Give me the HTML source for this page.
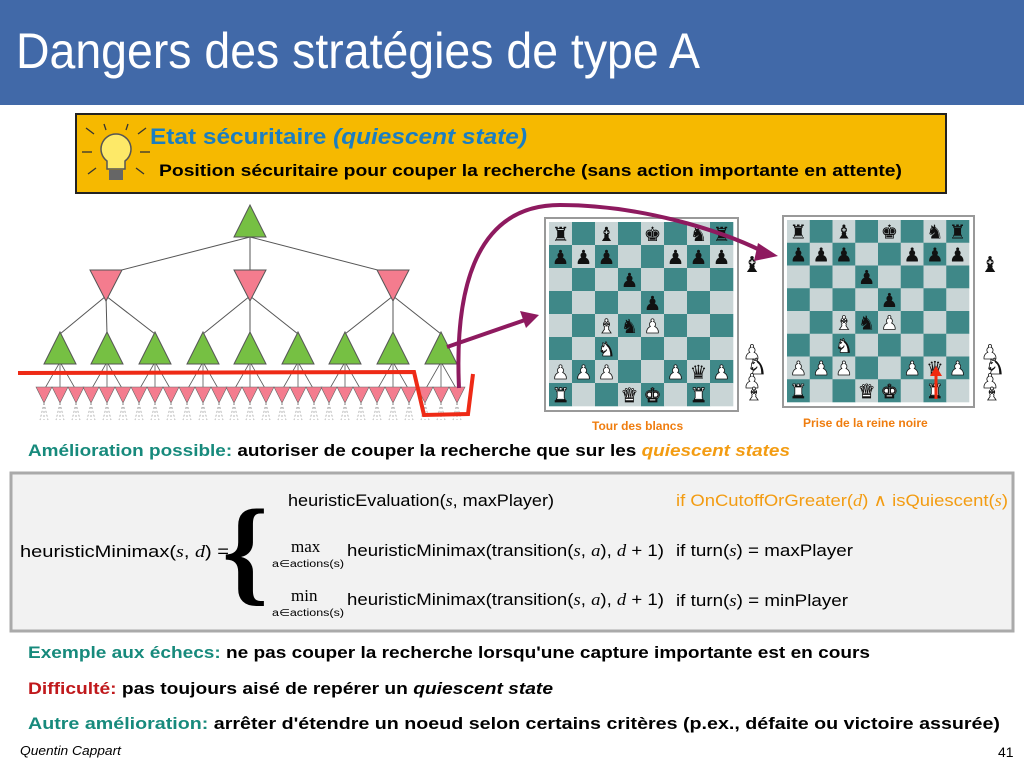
<!DOCTYPE html>
<html><head><meta charset="utf-8"><style>
body{margin:0;width:1024px;height:768px;overflow:hidden;background:#fff}
svg{display:block}
text{font-family:"Liberation Sans","DejaVu Sans",sans-serif}
.b{font-weight:bold}
.m{font-family:"Liberation Serif",serif}
</style></head><body>
<svg id="s" width="1024" height="768" viewBox="0 0 1024 768" xmlns="http://www.w3.org/2000/svg">
<rect x="0" y="0" width="1024" height="105" fill="#4169a8"/>
<text x="16" y="68" font-size="50" fill="#fff" textLength="684" lengthAdjust="spacingAndGlyphs">Dangers des stratégies de type A</text>

<rect x="76" y="114" width="870" height="79" fill="#f6b900" stroke="#222" stroke-width="2"/>
<g stroke="#333" stroke-width="1.3">
<line x1="86" y1="128" x2="94" y2="134"/><line x1="104" y1="124" x2="106" y2="130"/><line x1="128" y1="124" x2="126" y2="130"/><line x1="146" y1="128" x2="138" y2="134"/>
<line x1="82" y1="152" x2="92" y2="152"/><line x1="140" y1="152" x2="150" y2="152"/>
<line x1="88" y1="174" x2="96" y2="168"/><line x1="144" y1="174" x2="136" y2="168"/>
</g>
<path d="M116 134 a15 15 0 0 1 9 27 v8 h-18 v-8 a15 15 0 0 1 9 -27z" fill="#fde968" stroke="#555" stroke-width="1.5"/>
<rect x="109" y="170" width="14" height="10" fill="#666"/>
<text x="150" y="144" font-size="22" fill="#1b7ec2" class="b" textLength="377" lengthAdjust="spacingAndGlyphs">Etat sécuritaire <tspan font-style="italic">(quiescent state)</tspan></text>
<text x="159" y="176" font-size="17" class="b" textLength="743" lengthAdjust="spacingAndGlyphs">Position sécuritaire pour couper la recherche (sans action importante en attente)</text>

<g id="tree"></g>
<g id="boards"></g>

<text x="592" y="430" font-size="12" class="b" fill="#ef7d0f">Tour des blancs</text>
<text x="803" y="427" font-size="12" class="b" fill="#ef7d0f">Prise de la reine noire</text>

<text x="28" y="456" font-size="17" class="b" textLength="762" lengthAdjust="spacingAndGlyphs"><tspan fill="#178a7c">Amélioration possible:</tspan> autoriser de couper la recherche que sur les <tspan fill="#f39c12" font-style="italic">quiescent states</tspan></text>

<rect x="11" y="473" width="1002" height="158" fill="#f2f2f2" stroke="#aaa" stroke-width="3"/>
<text x="20" y="557" font-size="17" textLength="209" lengthAdjust="spacingAndGlyphs">heuristicMinimax(<tspan class="m" font-style="italic">s</tspan>, <tspan class="m" font-style="italic">d</tspan>) =</text>
<text x="222" y="590" font-size="118" class="m" font-weight="bold">{</text>
<text x="288" y="506" font-size="17" textLength="266" lengthAdjust="spacingAndGlyphs">heuristicEvaluation(<tspan class="m" font-style="italic">s</tspan>, maxPlayer)</text>
<text x="676" y="506" font-size="17" fill="#f39c12" textLength="332" lengthAdjust="spacingAndGlyphs">if OnCutoffOrGreater(<tspan class="m" font-style="italic">d</tspan>) ∧ isQuiescent(<tspan class="m" font-style="italic">s</tspan>)</text>
<text x="291" y="552" font-size="17" class="m">max</text>
<text x="272" y="567" font-size="10" textLength="72" lengthAdjust="spacingAndGlyphs">a∈actions(s)</text>
<text x="347" y="556" font-size="17" textLength="317" lengthAdjust="spacingAndGlyphs">heuristicMinimax(transition(<tspan class="m" font-style="italic">s</tspan>, <tspan class="m" font-style="italic">a</tspan>), <tspan class="m" font-style="italic">d</tspan> + 1)</text>
<text x="676" y="556" font-size="17" textLength="177" lengthAdjust="spacingAndGlyphs">if turn(<tspan class="m" font-style="italic">s</tspan>) = maxPlayer</text>
<text x="291" y="601" font-size="17" class="m">min</text>
<text x="272" y="616" font-size="10" textLength="72" lengthAdjust="spacingAndGlyphs">a∈actions(s)</text>
<text x="347" y="605" font-size="17" textLength="317" lengthAdjust="spacingAndGlyphs">heuristicMinimax(transition(<tspan class="m" font-style="italic">s</tspan>, <tspan class="m" font-style="italic">a</tspan>), <tspan class="m" font-style="italic">d</tspan> + 1)</text>
<text x="676" y="606" font-size="17" textLength="172" lengthAdjust="spacingAndGlyphs">if turn(<tspan class="m" font-style="italic">s</tspan>) = minPlayer</text>

<text x="28" y="658" font-size="17" class="b" textLength="842" lengthAdjust="spacingAndGlyphs"><tspan fill="#178a7c">Exemple aux échecs:</tspan> ne pas couper la recherche lorsqu'une capture importante est en cours</text>
<text x="28" y="694" font-size="17" class="b" textLength="525" lengthAdjust="spacingAndGlyphs"><tspan fill="#c0191c">Difficulté:</tspan> pas toujours aisé de repérer un <tspan font-style="italic">quiescent state</tspan></text>
<text x="28" y="729" font-size="17" class="b" textLength="972" lengthAdjust="spacingAndGlyphs"><tspan fill="#178a7c">Autre amélioration:</tspan> arrêter d'étendre un noeud selon certains critères (p.ex., défaite ou victoire assurée)</text>
<text x="20" y="755" font-size="13" font-style="italic" textLength="101" lengthAdjust="spacingAndGlyphs">Quentin Cappart</text>
<text x="998" y="757" font-size="14">41</text>
</svg>
<script>
var NS="http://www.w3.org/2000/svg";
function el(p,t,a,txt){var e=document.createElementNS(NS,t);for(var k in a)e.setAttribute(k,a[k]);if(txt!=null)e.textContent=txt;p.appendChild(e);return e;}
var T=document.getElementById('tree');
var G="#76c043",P="#f47c8e";
var l1=[106,250,393],l2=[60,107,155,203,250,298,345,393,441];
l1.forEach(function(x){el(T,'line',{x1:250,y1:237,x2:x,y2:274,stroke:'#555'});});
l2.forEach(function(x,i){el(T,'line',{x1:l1[Math.floor(i/3)],y1:296,x2:x,y2:334,stroke:'#555'});
 [-16,0,16].forEach(function(d){var lx=x+d;el(T,'line',{x1:x,y1:362,x2:lx,y2:390,stroke:'#555','stroke-width':0.8});
  for(var k=-1;k<=1;k++)el(T,'line',{x1:lx,y1:403,x2:lx+k*4,y2:420,stroke:'#999','stroke-width':0.7,'stroke-dasharray':'2,2'});
  el(T,'polygon',{points:(lx-8)+',387 '+(lx+8)+',387 '+lx+',403',fill:P,stroke:'#666','stroke-width':0.6});});});
el(T,'polygon',{points:'250,205 234,237 266,237',fill:G,stroke:'#555'});
l1.forEach(function(x){el(T,'polygon',{points:(x-16)+',270 '+(x+16)+',270 '+x+',301',fill:P,stroke:'#555'});});
l2.forEach(function(x){el(T,'polygon',{points:x+',332 '+(x-16)+',364 '+(x+16)+',364',fill:G,stroke:'#555'});});
el(T,'path',{d:'M18 373 L414 372 L424 415 L468 414 L473 374',fill:'none',stroke:'#ee2a16','stroke-width':4});
var B=document.getElementById('boards');
var pos=["r.b.k.nr","ppp..ppp","...p....","....p...","..BnP...","..N.....","PPP..PqP","R..QK.R."];
var blk={r:'♜',b:'♝',k:'♚',n:'♞',p:'♟',q:'♛'};
function piece(x,y,s,ch){var w=ch==ch.toUpperCase();var g=blk[ch.toLowerCase()];
 el(B,'text',{x:x,y:y,'font-size':s,'text-anchor':'middle',fill:w?'#fff':'#111',stroke:'#111','stroke-width':w?0.8:0,style:'font-family:"DejaVu Sans",sans-serif'},g);}
function board(ox,oy,s,bx,by,bw){
 el(B,'rect',{x:bx,y:by,width:bw,height:bw,fill:'#fff',stroke:'#999','stroke-width':2});
 for(var r=0;r<8;r++)for(var c=0;c<8;c++){
  el(B,'rect',{x:ox+c*s,y:oy+r*s,width:s+0.3,height:s+0.3,fill:((r+c)%2==0)?'#c9d5d6':'#3f8888'});
  var ch=pos[r][c];if(ch!='.')piece(ox+c*s+s/2,oy+r*s+s*0.82,s*0.85,ch);
 }
}
board(549,222,23,545,218,193);
board(787,220,22.75,783,216,191);
function side(x){
 piece(x,272,22,'b');
 piece(x,359,20,'P');piece(x+5,374,22,'N');piece(x,388,20,'P');piece(x+2,400,18,'B');
}
side(752);side(990);
el(B,'path',{d:'M936 399 L936 374',stroke:'#f02a10','stroke-width':3});
el(B,'polygon',{points:'930,376 942,376 936,366',fill:'#f02a10'});
var pc='#8e1a5f';
el(B,'path',{d:'M459 388 C455 300 470 205 560 205 C640 205 720 230 764 252',fill:'none',stroke:pc,'stroke-width':4});
el(B,'polygon',{points:'778,256 758,243 754,261',fill:pc});
el(B,'path',{d:'M447 347 L525 320',stroke:pc,'stroke-width':4});
el(B,'polygon',{points:'539,315 520,311 526,328',fill:pc});
</script>
</body></html>
